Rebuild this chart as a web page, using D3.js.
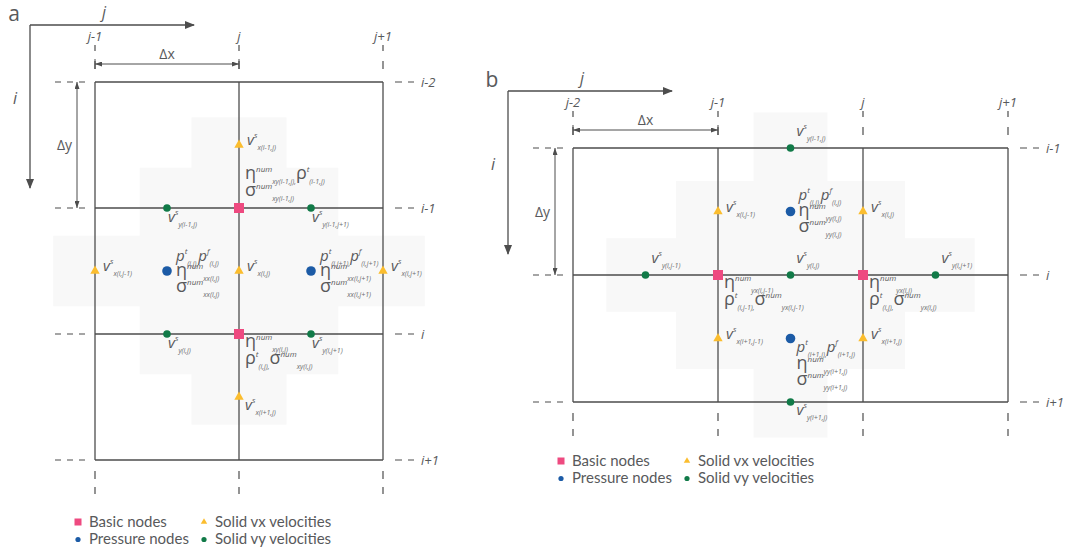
<!DOCTYPE html>
<html>
<head>
<meta charset="utf-8">
<script src="https://cdn.jsdelivr.net/npm/d3@7"></script>
<style>
  body { margin: 0; background: #fff; }
  svg { display: block; }
  .lab { fill: #58595b; font-family: "Open Sans", "DejaVu Sans", sans-serif; }
  .tick { fill: #58595b; font-family: "Open Sans", sans-serif; font-style: italic; font-size: 13px; }
  .leg { fill: #58595b; font-family: Lato, "Open Sans", sans-serif; font-size: 15px; }
</style>
</head>
<body>
<svg id="chart"></svg>
<script>
// grid labels
const colLabelsA = ["j-1", "j", "j+1"];
const rowLabelsA = ["i-2", "i-1", "i", "i+1"];
const colLabelsB = ["j-2", "j-1", "j", "j+1"];
const rowLabelsB = ["i-1", "i", "i+1"];

// node positions, [column, row] in grid units
const basicA = [[1, 1], [1, 2]];
const pressureA = [[0.5, 1.5], [1.5, 1.5]];
const vxA = [[1, 0.5], [0, 1.5], [1, 1.5], [2, 1.5], [1, 2.5]];
const vyA = [[0.5, 1], [1.5, 1], [0.5, 2], [1.5, 2]];

const basicB = [[1, 1], [2, 1]];
const pressureB = [[1.5, 0.5], [1.5, 1.5]];
const vxB = [[1, 0.5], [2, 0.5], [1, 1.5], [2, 1.5]];
const vyB = [[1.5, 0], [0.5, 1], [1.5, 1], [2.5, 1], [1.5, 2]];

// shaded stencil: [half width, half height] in grid units
const stencilA = [[0.33, 1.22], [0.69, 0.82], [1.29, 0.28]];
const stencilB = [[0.255, 1.28], [0.79, 0.74], [1.27, 0.29]];

// labels: anchor node, placement, lines (terms split by ";")
const labelsA = [
  {at: [1, 0.5], pos: "r", lines: ["v^s_x(i-1,j)"]},
  {at: [1, 1], pos: "ar", lines: ["η^num_xy(i-1,j);ρ^t_(i-1,j)", "σ^num_xy(i-1,j)"]},
  {at: [0.5, 1], pos: "b", lines: ["v^s_y(i-1,j)"]},
  {at: [1.5, 1], pos: "b", lines: ["v^s_y(i-1,j+1)"]},
  {at: [0, 1.5], pos: "r", lines: ["v^s_x(i,j-1)"]},
  {at: [0.5, 1.5], pos: "mid", lines: ["p^t_(i,j);p^f_(i,j)", "η^num_xx(i,j)", "σ^num_xx(i,j)"]},
  {at: [1, 1.5], pos: "r", lines: ["v^s_x(i,j)"]},
  {at: [1.5, 1.5], pos: "mid", lines: ["p^t_(i,j+1);p^f_(i,j+1)", "η^num_xx(i,j+1)", "σ^num_xx(i,j+1)"]},
  {at: [2, 1.5], pos: "r", lines: ["v^s_x(i,j+1)"]},
  {at: [0.5, 2], pos: "b", lines: ["v^s_y(i,j)"]},
  {at: [1, 2], pos: "br", lines: ["η^num_xy(i,j)", "ρ^t_(i,j);σ^num_xy(i,j)"]},
  {at: [1.5, 2], pos: "b", lines: ["v^s_y(i,j+1)"]},
  {at: [1, 2.5], pos: "br", lines: ["v^s_x(i+1,j)"]}
];
const labelsB = [
  {at: [1.5, 0], pos: "a", lines: ["v^s_y(i-1,j)"]},
  {at: [1, 0.5], pos: "r", lines: ["v^s_x(i,j-1)"]},
  {at: [1.5, 0.5], pos: "midb", lines: ["p^t_(i,j);p^f_(i,j)", "η^num_yy(i,j)", "σ^num_yy(i,j)"]},
  {at: [2, 0.5], pos: "r", lines: ["v^s_x(i,j)"]},
  {at: [0.5, 1], pos: "a", lines: ["v^s_y(i,j-1)"]},
  {at: [1.5, 1], pos: "a", lines: ["v^s_y(i,j)"]},
  {at: [2.5, 1], pos: "a", lines: ["v^s_y(i,j+1)"]},
  {at: [1, 1], pos: "br", lines: ["η^num_yx(i,j-1)", "ρ^t_(i,j-1);σ^num_yx(i,j-1)"]},
  {at: [2, 1], pos: "br", lines: ["η^num_yx(i,j)", "ρ^t_(i,j);σ^num_yx(i,j)"]},
  {at: [1, 1.5], pos: "r", lines: ["v^s_x(i+1,j-1)"]},
  {at: [1.5, 1.5], pos: "br", lines: ["p^t_(i+1,j);p^f_(i+1,j)", "η^num_yy(i+1,j)", "σ^num_yy(i+1,j)"]},
  {at: [2, 1.5], pos: "r", lines: ["v^s_x(i+1,j)"]},
  {at: [1.5, 2], pos: "br", lines: ["v^s_y(i+1,j)"]}
];

const legendItems = [
  ["square", "Basic nodes"], ["tri", "Solid vx velocities"],
  ["pdot", "Pressure nodes"], ["vdot", "Solid vy velocities"]
];

const colors = {square: "#ee4a80", pdot: "#1c5ba6", tri: "#fbbd2e", vdot: "#117a48"};
const lineCol = "#4d4d4d";

const svg = d3.select("#chart").attr("width", 1067).attr("height", 551);

// arrow heads
const defs = svg.append("defs");
defs.append("marker").attr("id", "head")
    .attr("viewBox", "0 0 10 8").attr("refX", 9).attr("refY", 4)
    .attr("markerWidth", 10).attr("markerHeight", 8).attr("markerUnits", "userSpaceOnUse")
    .attr("orient", "auto")
  .append("path").attr("d", "M0,0L10,4L0,8z").attr("fill", lineCol);
defs.append("marker").attr("id", "dim")
    .attr("viewBox", "0 0 7 5").attr("refX", 7).attr("refY", 2.5)
    .attr("markerWidth", 7).attr("markerHeight", 5).attr("markerUnits", "userSpaceOnUse")
    .attr("orient", "auto-start-reverse")
  .append("path").attr("d", "M0,0L7,2.5L0,5z").attr("fill", lineCol);

// text offsets from the anchor node: dx and the baseline of each line
const place = {
  r:    {dx: 8, ys: [0]},
  a:    {dx: 6, ys: [-12]},
  b:    {dx: 1, ys: [14]},
  mid:  {dx: 9, ys: [-10, 5, 21]},
  midb: {dx: 8, ys: [-12, 4, 20]},
  br:   {dx: 6, ys: [13, 30, 46]},
  ar:   {dx: 6, ys: [-29, -12]}
};

function drawLine(g, x, y, line) {
  const t = g.append("text").attr("class", "lab").attr("x", x).attr("y", y);
  const terms = line.split(";");
  terms.forEach((term, k) => {
    const m = term.match(/^([^\^_]+)(?:\^([^_]*))?(?:_(.*))?$/);
    const latin = /[a-z]/.test(m[1]);
    t.append("tspan").attr("y", y)
        .attr("font-size", latin ? 15 : 18)
        .attr("font-style", latin ? "italic" : "normal")
        .text(m[1]);
    if (m[2]) t.append("tspan").attr("y", y - 7).attr("font-size", 8)
        .attr("font-style", "italic").text(m[2]);
    if (m[3]) t.append("tspan").attr("y", y + 5).attr("font-size", 7)
        .attr("font-style", "italic").attr("fill", "#6d6e70")
        .text(m[3] + (k < terms.length - 1 ? "," : ""));
  });
}

function drawPanel(cfg) {
  const g = svg.append("g");
  const nc = cfg.cols.length - 1, nr = cfg.rows.length - 1;
  const x = d3.scaleLinear().domain([0, nc]).range(cfg.xr);
  const y = d3.scaleLinear().domain([0, nr]).range(cfg.yr);
  const x0 = x(0), x1 = x(nc), y0 = y(0), y1 = y(nr);

  // shaded stencil
  g.selectAll("rect.sh").data(cfg.stencil).join("rect")
      .attr("x", d => x(cfg.center[0] - d[0]))
      .attr("y", d => y(cfg.center[1] - d[1]))
      .attr("width", d => x(cfg.center[0] + d[0]) - x(cfg.center[0] - d[0]))
      .attr("height", d => y(cfg.center[1] + d[1]) - y(cfg.center[1] - d[1]))
      .attr("fill", "#f8f8f8");

  // grid lines
  g.selectAll("line.v").data(d3.range(nc + 1)).join("line")
      .attr("x1", d => x(d)).attr("x2", d => x(d)).attr("y1", y0).attr("y2", y1)
      .attr("stroke", lineCol).attr("stroke-width", 1.3);
  g.selectAll("line.h").data(d3.range(nr + 1)).join("line")
      .attr("y1", d => y(d)).attr("y2", d => y(d)).attr("x1", x0).attr("x2", x1)
      .attr("stroke", lineCol).attr("stroke-width", 1.3);

  // dashed extensions
  const dash = g.append("g").attr("stroke", lineCol).attr("stroke-width", 1.2);
  d3.range(nc + 1).forEach(c => {
    dash.append("line").attr("x1", x(c)).attr("x2", x(c)).attr("y1", y0 - 13).attr("y2", y0 - 37)
        .attr("stroke-dasharray", "8,10");
    dash.append("line").attr("x1", x(c)).attr("x2", x(c)).attr("y1", y1 + 11).attr("y2", y1 + 34)
        .attr("stroke-dasharray", "8,8");
    g.append("text").attr("class", "tick").attr("x", x(c)).attr("y", y0 - 41)
        .attr("text-anchor", "middle").text(cfg.cols[c]);
  });
  d3.range(nr + 1).forEach(r => {
    dash.append("line").attr("y1", y(r)).attr("y2", y(r)).attr("x1", x0 - 10).attr("x2", x0 - 42)
        .attr("stroke-dasharray", "6,6");
    dash.append("line").attr("y1", y(r)).attr("y2", y(r)).attr("x1", x1 + 12).attr("x2", x1 + 31)
        .attr("stroke-dasharray", "7,6");
    g.append("text").attr("class", "tick").attr("x", x1 + 38).attr("y", y(r) + 5)
        .text(cfg.rows[r]);
  });

  // dimension arrows
  const dy = y0 - 18, dx = x0 - 18;
  g.append("line").attr("x1", x(0)).attr("x2", x(1)).attr("y1", dy).attr("y2", dy)
      .attr("stroke", lineCol).attr("marker-start", "url(#dim)").attr("marker-end", "url(#dim)");
  [x(0), x(1)].forEach(v => g.append("line").attr("x1", v).attr("x2", v)
      .attr("y1", dy - 5).attr("y2", dy + 5).attr("stroke", lineCol));
  g.append("text").attr("class", "lab").attr("font-size", 14)
      .attr("x", (x(0) + x(1)) / 2).attr("y", dy - 5).attr("text-anchor", "middle").text("Δx");
  g.append("line").attr("x1", dx).attr("x2", dx).attr("y1", y(0)).attr("y2", y(1))
      .attr("stroke", lineCol).attr("marker-start", "url(#dim)").attr("marker-end", "url(#dim)");
  g.append("text").attr("class", "lab").attr("font-size", 14)
      .attr("x", dx - 5).attr("y", (y(0) + y(1)) / 2 + 5).attr("text-anchor", "end").text("Δy");

  // index axes
  const ox = x0 - 65, oy = y0 - 57;
  g.append("line").attr("x1", ox).attr("x2", ox + 164).attr("y1", oy).attr("y2", oy)
      .attr("stroke", lineCol).attr("stroke-width", 1.3).attr("marker-end", "url(#head)");
  g.append("line").attr("x1", ox).attr("x2", ox).attr("y1", oy).attr("y2", oy + 163)
      .attr("stroke", lineCol).attr("stroke-width", 1.3).attr("marker-end", "url(#head)");
  g.append("text").attr("class", "lab").attr("font-size", 16).attr("font-style", "italic")
      .attr("x", ox + 74).attr("y", oy - 7).attr("text-anchor", "middle").text("j");
  g.append("text").attr("class", "lab").attr("font-size", 16).attr("font-style", "italic")
      .attr("x", ox - 15).attr("y", oy + 79).attr("text-anchor", "middle").text("i");
  g.append("text").attr("class", "lab").attr("font-size", 21)
      .attr("x", ox - 16).attr("y", oy - 4).attr("text-anchor", "middle").text(cfg.name);

  // nodes
  const px = d => x(d[0]), py = d => y(d[1]);
  g.selectAll("rect.basic").data(cfg.basic).join("rect")
      .attr("x", d => px(d) - 5).attr("y", d => py(d) - 5).attr("width", 10).attr("height", 10)
      .attr("fill", colors.square);
  g.selectAll("circle.p").data(cfg.pressure).join("circle")
      .attr("cx", px).attr("cy", py).attr("r", 4.8).attr("fill", colors.pdot);
  g.selectAll("path.vx").data(cfg.vx).join("path")
      .attr("d", d3.symbol(d3.symbolTriangle, 38))
      .attr("transform", d => `translate(${px(d)},${py(d)})`).attr("fill", colors.tri);
  g.selectAll("circle.vy").data(cfg.vy).join("circle")
      .attr("cx", px).attr("cy", py).attr("r", 3.8).attr("fill", colors.vdot);

  // labels
  cfg.labels.forEach(l => {
    const p = place[l.pos];
    l.lines.forEach((line, k) => drawLine(g, px(l.at) + p.dx, py(l.at) + p.ys[k], line));
  });

  // legend
  const [lx, ly] = cfg.legend;
  legendItems.forEach((it, k) => {
    const cx = lx + (k % 2) * 126, cy = ly + Math.floor(k / 2) * 16.5;
    if (it[0] === "square") g.append("rect").attr("x", cx - 3.5).attr("y", cy - 3.5)
        .attr("width", 7).attr("height", 7).attr("fill", colors.square);
    else if (it[0] === "tri") g.append("path").attr("d", d3.symbol(d3.symbolTriangle, 18)())
        .attr("transform", `translate(${cx},${cy})`).attr("fill", colors.tri);
    else g.append("circle").attr("cx", cx).attr("cy", cy + 1).attr("r", 2.6).attr("fill", colors[it[0]]);
    g.append("text").attr("class", "leg").attr("x", cx + 11).attr("y", cy + 5).text(it[1]);
  });
}

drawPanel({
  name: "a", cols: colLabelsA, rows: rowLabelsA, xr: [95, 383], yr: [82, 460],
  basic: basicA, pressure: pressureA, vx: vxA, vy: vyA,
  stencil: stencilA, center: [1, 1.5], labels: labelsA, legend: [78, 522]
});
drawPanel({
  name: "b", cols: colLabelsB, rows: rowLabelsB, xr: [573, 1008], yr: [148, 402],
  basic: basicB, pressure: pressureB, vx: vxB, vy: vyB,
  stencil: stencilB, center: [1.5, 1], labels: labelsB, legend: [561, 461]
});
</script>
</body>
</html>
